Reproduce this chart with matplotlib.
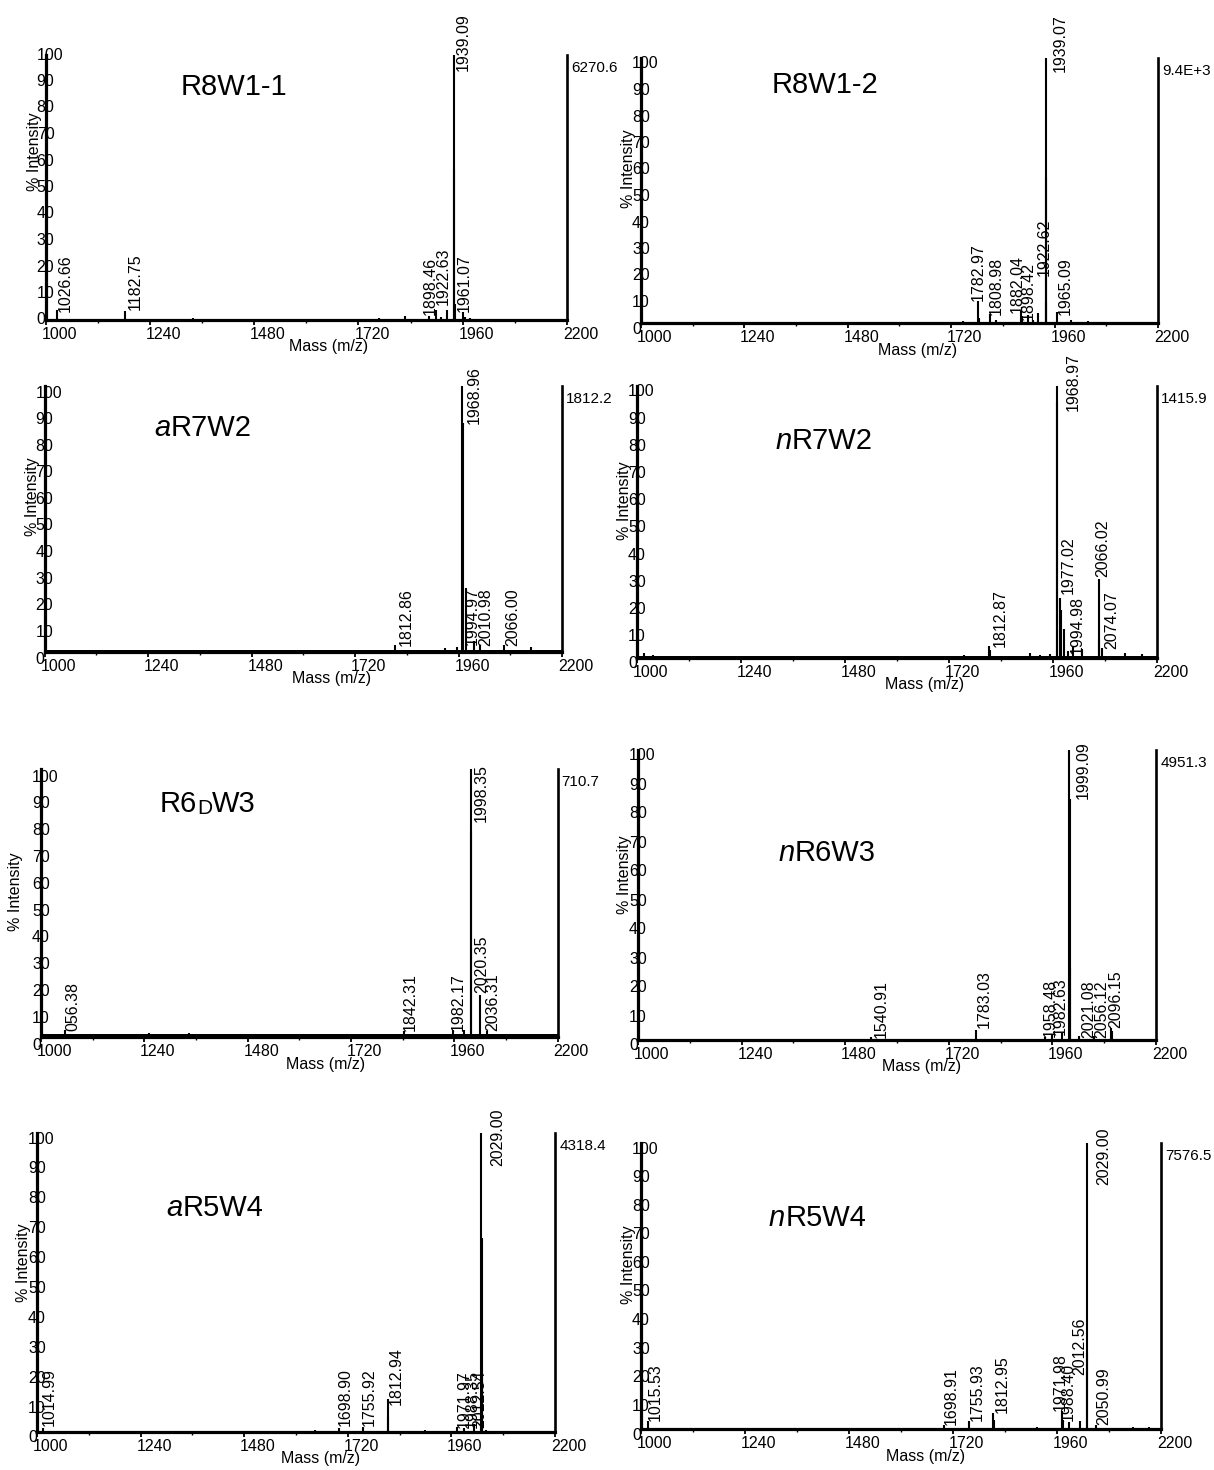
import matplotlib
matplotlib.use("Agg")
import matplotlib.pyplot as plt

plt.rcParams['font.family'] = ['Liberation Sans', 'DejaVu Sans']

# ---- data (m/z, % intensity) ----
titles = ["R8W1-1", "R8W1-2", "aR7W2", "nR7W2", "R6DW3", "nR6W3", "aR5W4", "nR5W4"]
max_counts = ["6270.6", "9.4E+3", "1812.2", "1415.9", "710.7", "4951.3", "4318.4", "7576.5"]
baselines = [0.3, 0.3, 0.8, 0.6, 1.0, 0.3, 0.4, 0.4]

p1_mz = [1026.66, 1182.75, 1339, 1768, 1826, 1882, 1898.46, 1910, 1922.63, 1939.09, 1940.09, 1941.09, 1961.07, 1966, 1976]
p1_int = [3.8, 3.4, 0.6, 0.6, 1.5, 1.5, 3.8, 1.0, 3.8, 100, 57, 6, 3.0, 1.0, 0.8]
p1_tags = ["1026.66", "1182.75", "1898.46", "1922.63", "1939.09", "1961.07"]

p2_mz = [1626, 1655, 1725, 1748, 1782.97, 1784.5, 1808.98, 1824, 1882.04, 1884, 1898.42, 1910, 1922.62, 1939.07, 1940.07, 1941.07, 1965.09, 1997, 2037]
p2_int = [0.5, 0.5, 0.5, 0.6, 8.2, 2.0, 3.4, 1.0, 4.4, 2.5, 3.1, 1.2, 3.8, 100, 55, 8, 4.0, 1.3, 0.8]
p2_tags = ["1782.97", "1808.98", "1882.04", "1898.42", "1922.62", "1939.07", "1965.09"]

p3_mz = [1812.86, 1929, 1956, 1968.96, 1969.96, 1977, 1994.97, 2010.98, 2066.00, 2127]
p3_int = [2.8, 1.5, 2.0, 100, 86, 24, 4.0, 2.8, 2.8, 1.9]
p3_tags = ["1812.86", "1968.96", "1994.97", "2010.98", "2066.00"]

p4_mz = [1015, 1036, 1754, 1812.87, 1815, 1908, 1930, 1953, 1968.97, 1969.97, 1977.02, 1978, 1985,
         1994.98, 2005, 2026, 2066.02, 2067, 2074.07, 2126, 2165]
p4_int = [1.8, 1.0, 1.0, 4.4, 3.0, 2.0, 1.0, 1.5, 100, 94, 22, 17.6, 10.5, 2.5, 4.0, 3.2, 29, 7, 3.5, 2.0, 1.5]
p4_tags = ["1812.87", "1968.97", "1977.02", "1994.98", "2066.02", "2074.07"]

p5_mz = [1002, 1056.38, 1250, 1345, 1842.31, 1958, 1982.17, 1998.35, 1999.35, 2020.35, 2036.31]
p5_int = [2.0, 2.7, 1.5, 1.5, 2.1, 2.7, 2.7, 100, 77, 15.8, 2.4]
p5_tags = ["056.38", "1842.31", "1982.17", "1998.35", "2020.35", "2036.31"]

p6_mz = [1540.91, 1650, 1725, 1783.03, 1942, 1958.48, 1982.63, 1999.09, 2000.09, 2001.09, 2021.08, 2056.12, 2096.15, 2097.5, 2125]
p6_int = [1.0, 0.5, 0.5, 3.4, 1.0, 2.0, 2.5, 100, 83, 25, 1.4, 1.4, 4.0, 3.0, 0.5]
p6_tags = ["1540.91", "1783.03", "1958.48", "1982.63", "1999.09", "2021.08", "2056.12", "2096.15"]

p7_mz = [1014.99, 1643, 1698.90, 1755.92, 1812.94, 1814, 1899, 1971.97, 1988.35, 2012.54, 2029.00, 2030.00, 2031, 2040]
p7_int = [1.3, 0.6, 1.3, 1.7, 11, 5, 0.7, 1.7, 1.5, 2.8, 100, 65, 20, 0.8]
p7_tags = ["1014.99", "1698.90", "1755.92", "1812.94", "1971.97", "1988.35", "2012.54", "2029.00"]

p8_mz = [1015.53, 1698.91, 1755.93, 1812.95, 1814, 1856, 1914, 1971.98, 1973, 1988.40, 2012.56, 2029.00, 2030.00, 2050.99, 2136, 2173]
p8_int = [2.7, 1.5, 2.7, 5.6, 3.0, 0.5, 0.8, 6.2, 3.0, 2.3, 2.7, 100, 26.6, 1.5, 0.8, 0.6]
p8_tags = ["1015.53", "1698.91", "1755.93", "1812.95", "1971.98", "1988.40", "2012.56", "2029.00", "2050.99"]

spectra = [(p1_mz, p1_int, p1_tags), (p2_mz, p2_int, p2_tags), (p3_mz, p3_int, p3_tags),
           (p4_mz, p4_int, p4_tags), (p5_mz, p5_int, p5_tags), (p6_mz, p6_int, p6_tags),
           (p7_mz, p7_int, p7_tags), (p8_mz, p8_int, p8_tags)]

xticks = [1000, 1240, 1480, 1720, 1960, 2200]
yticks = [0, 10, 20, 30, 40, 50, 60, 70, 80, 90, 100]

# ---- layout: where each peak tag sits (m/z of left edge, % of bottom / centre for base peak) ----
tag_pos = [
    [(1028, 3.1), (1189, 3.8), (1868, 1.9), (1897, 5.7), (1944, 104.8), (1946, 3.1)],
    [(1766, 8.2), (1806, 3.1), (1856, 3.8), (1881, 1.3), (1919, 17.6), (1955, 105.7), (1968, 3.1)],
    [(1821, 2.1), (1978, 96.5), (1974, 2.8), (2005, 2.1), (2068, 2.1)],
    [(1820, 4.0), (1990, 101.5), (1977, 23.6), (1999, 1.6), (2057, 29.8), (2078, 3.4)],
    [(1057, 2.1), (1840, 2.1), (1952, 2.1), (2006, 91.0), (2006, 16.4), (2033, 2.1)],
    [(1545, 0.6), (1785, 4.0), (1937, 1.1), (1960, 1.7), (2013, 92.9), (2027, 0.6), (2058, 0.6), (2090, 4.0)],
    [(1011, 1.9), (1697, 1.9), (1753, 1.9), (1816, 9.1), (1973, 1.3), (1991, 1.3), (2009, 1.3), (2049, 98.7)],
    [(1015, 2.7), (1699, 1.5), (1758, 2.7), (1816, 5.6), (1950, 6.2), (1968, 2.7), (1995, 19.0), (2050, 95.3), (2050, 1.5)],
]
axes_px = [(45.7, 55, 567, 320), (641, 58, 1158, 323), (44.5, 386, 562, 652), (637, 386, 1157, 658),
           (41, 769, 557.5, 1037), (638, 750, 1156, 1040), (37, 1133, 555, 1432), (641, 1143, 1161, 1429)]
title_pos = [(0.258, 0.887), (0.252, 0.906), (0.213, 0.85), (0.267, 0.805),
             (0.23, 0.88), (0.271, 0.653), (0.25, 0.756), (0.246, 0.745)]
ylab_pos = [(-11, 0.634), (-13, 0.581), (-12.5, 0.583), (-12, 0.577),
            (-25, 0.541), (-13, 0.569), (-13, 0.565), (-12, 0.573)]
ytick_shift = [0, -6, -7, -6, -8, -6, -6, -6]
xlab_x = [0.542, 0.535, 0.554, 0.553, 0.55, 0.548, 0.548, 0.548]

W, H = 1214, 1470
PT = 0.72  # points per pixel at dpi 100
FS = 11.5
fig = plt.figure(figsize=(W / 100, H / 100), dpi=100)


def draw_title(ax, text, pos):
    # split into runs: italic leading lowercase, small caps 'D'
    runs = []
    if text[0].islower():
        runs.append((text[0], 'italic', 21))
        text = text[1:]
    if 'D' in text:
        a, b = text.split('D', 1)
        runs += [(a, 'normal', 21), ('D', 'normal', 15), (b, 'normal', 21)]
    else:
        runs.append((text, 'normal', 21))
    prev = ax.annotate(runs[0][0], xy=pos, xycoords='axes fraction', xytext=(0, -7.5),
                       textcoords='offset points', ha='left', va='baseline',
                       fontsize=runs[0][2], style=runs[0][1])
    for s, st, fs in runs[1:]:
        prev = ax.annotate(s, xy=(1, 0), xycoords=prev, ha='left', va='bottom',
                           fontsize=fs, style=st)


for i, (mz, inten, tags) in enumerate(spectra):
    l, t, r, b = axes_px[i]
    ax = fig.add_axes([l / W, 1 - b / H, (r - l) / W, (b - t) / H])
    ax.set_xlim(1000, 2200)
    ax.set_ylim(0, 100)

    ax.fill_between([1000, 2200], 0, baselines[i], color='k', lw=0)
    ax.vlines(mz, 0, inten, color='k', lw=1.5)

    ax.spines['top'].set_visible(False)
    ax.spines['left'].set_linewidth(2.3)
    ax.spines['bottom'].set_linewidth(2.3)
    ax.spines['right'].set_linewidth(1.9)

    ax.set_xticks(xticks)
    ax.set_xticks(range(1000, 2201, 120), minor=True)
    ax.set_xticklabels([])
    ax.set_yticks([])
    ax.tick_params(axis='x', which='major', direction='out', length=3.5, width=1.3)
    ax.tick_params(axis='x', which='minor', direction='out', length=2.5, width=1.0)

    for xt in xticks:
        ax.annotate(str(xt), xy=(xt, 0), xycoords=('data', 'axes fraction'),
                    xytext=(-3, -5), textcoords='offset points',
                    ha='left', va='top', fontsize=FS, annotation_clip=False)
    for yt in yticks:
        ax.annotate(str(yt), xy=(0, yt), xycoords=('axes fraction', 'data'),
                    xytext=(-6.5, ytick_shift[i] * PT), textcoords='offset points',
                    ha='left', va='center', fontsize=FS, annotation_clip=False)

    ax.annotate('% Intensity', xy=(0, ylab_pos[i][1]), xycoords='axes fraction',
                xytext=(ylab_pos[i][0] * PT, 0), textcoords='offset points',
                rotation=90, ha='center', va='center', fontsize=FS)
    ax.annotate('Mass (m/z)', xy=(xlab_x[i], 0), xycoords='axes fraction',
                xytext=(0, -27 * PT), textcoords='offset points',
                ha='center', va='center', fontsize=FS)
    ax.annotate(max_counts[i], xy=(1, 1), xycoords='axes fraction', xytext=(3, -4),
                textcoords='offset points', ha='left', va='top', fontsize=11)

    for tag, (tx, ty) in zip(tags, tag_pos[i]):
        va = 'center' if ty > 50 else 'bottom'
        ax.text(tx, ty, tag, rotation=90, ha='left', va=va, fontsize=FS, clip_on=False)

    draw_title(ax, titles[i], title_pos[i])

fig.savefig('out.png', dpi=100, facecolor='white')
